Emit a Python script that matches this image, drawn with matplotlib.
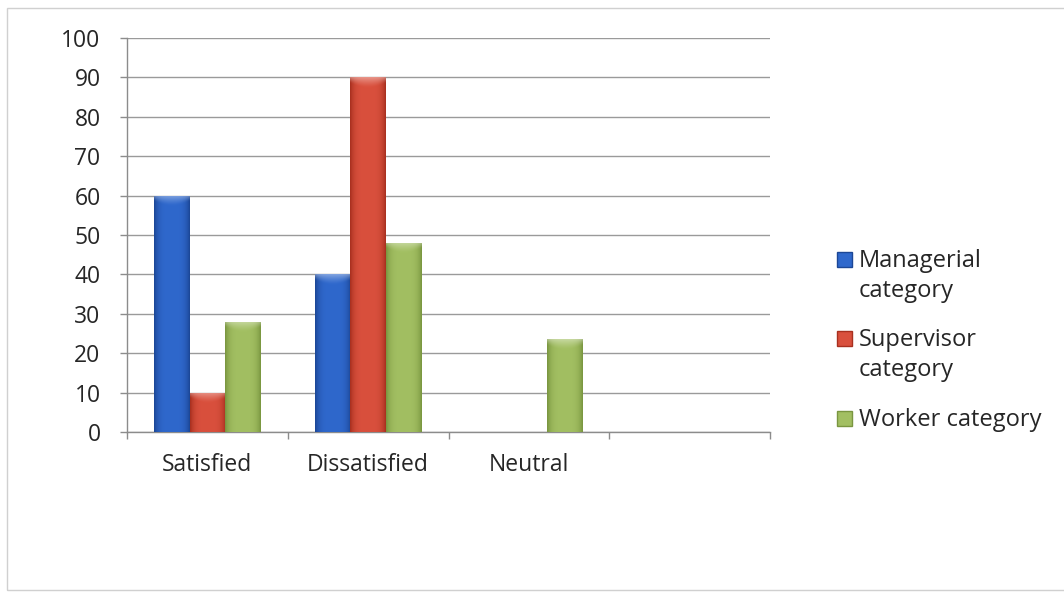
import matplotlib
matplotlib.use("Agg")
import matplotlib.pyplot as plt
import numpy as np
from matplotlib.patches import Rectangle
from matplotlib.colors import to_rgb

categories = ["Satisfied", "Dissatisfied", "Neutral", ""]
series_names = ["Managerial\ncategory", "Supervisor\ncategory", "Worker category"]
managerial = [60, 40, 0, 0]
supervisor = [10, 90, 0, 0]
worker = [28, 48, 23.5, 0]
yticks = list(range(0, 101, 10))

# edge / centre colours for the rounded bar shading
shades = [("#1c4796", "#2f68cc"), ("#a8301f", "#d9503d"), ("#7a9640", "#a2bf62")]

plt.rcParams["font.family"] = ["Open Sans", "DejaVu Sans"]

fig = plt.figure(figsize=(10.64, 5.93), dpi=100)
ax = fig.add_axes([127 / 1064, 161 / 593, 643 / 1064, 394 / 593])

x = np.arange(len(categories))
w = 1 / 4.5
values = [managerial, supervisor, worker]


def shade_bar(ax, bar, edge, mid):
    x0, y0 = bar.get_x(), bar.get_y()
    bw, bh = bar.get_width(), bar.get_height()
    if bh <= 0:
        return
    ncol = 60
    nrow = max(8, int(bh * 12))
    t = np.linspace(-1, 1, ncol)
    k = 1 - np.abs(t) ** 4
    e, m = np.array(to_rgb(edge)), np.array(to_rgb(mid))
    row = e[None, :] * (1 - k[:, None]) + m[None, :] * k[:, None]
    img = np.tile(row[None, :, :], (nrow, 1, 1))
    # lighter bevel at the top, curved lower edge
    depth = 2.6 * (1 - 0.45 * t ** 2)
    ydown = np.linspace(0, bh, nrow)[:, None]
    cap = np.clip(1 - ydown / depth[None, :], 0, 1) ** 1.3
    light = row * 0.6 + 0.4
    img = img * (1 - cap[:, :, None]) + light[None, :, :] * cap[:, :, None]
    im = ax.imshow(img, extent=(x0, x0 + bw, y0, y0 + bh), aspect="auto",
                   interpolation="bilinear", zorder=3)
    im.set_clip_path(bar)
    bar.set_alpha(0)


for i, vals in enumerate(values):
    bars = ax.bar(x - 1.5 * w + w / 2 + i * w, vals, w, zorder=2,
                  color=shades[i][1], linewidth=0)
    for b in bars:
        shade_bar(ax, b, *shades[i])

ax.set_xlim(-0.5, 3.5)
ax.set_ylim(0, 100)
ax.set_yticks(yticks)
ax.set_xticks(x)
ax.set_xticklabels(categories)
ax.set_xticks(np.arange(-0.5, 4, 1), minor=True)
ax.tick_params(axis="x", which="major", length=0, pad=15, labelsize=16.5, colors="#262626")
ax.tick_params(axis="x", which="minor", length=5, width=1, color="#8c8c8c")
ax.tick_params(axis="y", length=5, width=1, color="#8c8c8c", pad=14, labelsize=16.5,
               labelcolor="#262626")
ax.grid(axis="y", color="#9a9a9a", linewidth=1, zorder=0)
ax.set_axisbelow(True)
for s in ["top", "right"]:
    ax.spines[s].set_visible(False)
for s in ["left", "bottom"]:
    ax.spines[s].set_color("#8c8c8c")
    ax.spines[s].set_linewidth(1)

# legend on the right
legend_base = [267, 346, 426]
for i, name in enumerate(series_names):
    yy = 1 - legend_base[i] / 593
    sq = Rectangle((837 / 1064, yy), 15 / 1064, 15 / 593,
                   transform=fig.transFigure, facecolor=shades[i][1],
                   edgecolor=shades[i][0], linewidth=1)
    fig.add_artist(sq)
    lines = name.split("\n")
    for j, line in enumerate(lines):
        fig.text(859 / 1064, yy - j * 30 / 593, line, fontsize=17, va="baseline",
                 ha="left", color="#262626")

# outer chart frame
frame = Rectangle((7 / 1064, 3 / 593), 1.2, 582 / 593, transform=fig.transFigure,
                  fill=False, edgecolor="#d0d0d0", linewidth=1)
fig.add_artist(frame)

fig.savefig("out.png", dpi=100)
